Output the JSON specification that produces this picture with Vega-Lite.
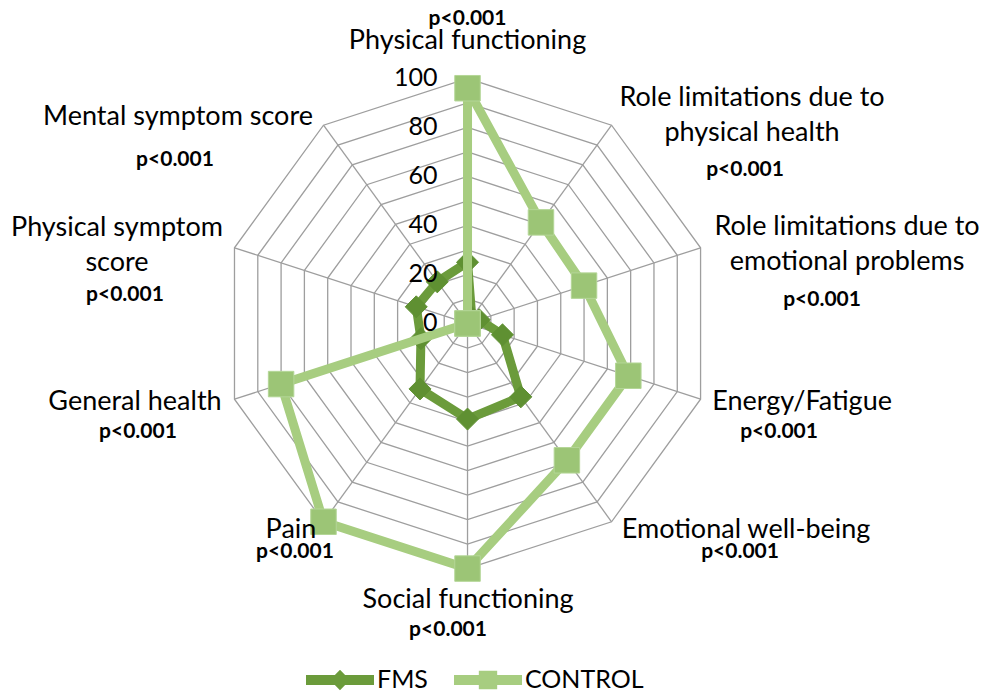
{
  "$schema": "https://vega.github.io/schema/vega-lite/v6.json",
  "width": 987,
  "height": 696,
  "autosize": {"type": "none"},
  "padding": 0,
  "background": "white",
  "config": {"view": {"stroke": null}, "font": "Lato"},
  "datasets": {
    "axes": [
      {"axis": "Physical functioning", "order": 0, "label": ["Physical functioning"], "p": "p<0.001", "rings": [10,20,30,40,50,60,70,80,90,100]},
      {"axis": "Role limitations due to physical health", "order": 1, "label": ["Role limitations due to", "physical health"], "p": "p<0.001", "rings": [10,20,30,40,50,60,70,80,90,100]},
      {"axis": "Role limitations due to emotional problems", "order": 2, "label": ["Role limitations due to", "emotional problems"], "p": "p<0.001", "rings": [10,20,30,40,50,60,70,80,90,100]},
      {"axis": "Energy/Fatigue", "order": 3, "label": ["Energy/Fatigue"], "p": "p<0.001", "rings": [10,20,30,40,50,60,70,80,90,100]},
      {"axis": "Emotional well-being", "order": 4, "label": ["Emotional well-being"], "p": "p<0.001", "rings": [10,20,30,40,50,60,70,80,90,100]},
      {"axis": "Social functioning", "order": 5, "label": ["Social functioning"], "p": "p<0.001", "rings": [10,20,30,40,50,60,70,80,90,100]},
      {"axis": "Pain", "order": 6, "label": ["Pain"], "p": "p<0.001", "rings": [10,20,30,40,50,60,70,80,90,100]},
      {"axis": "General health", "order": 7, "label": ["General health"], "p": "p<0.001", "rings": [10,20,30,40,50,60,70,80,90,100]},
      {"axis": "Physical symptom score", "order": 8, "label": ["Physical symptom", "score"], "p": "p<0.001", "rings": [10,20,30,40,50,60,70,80,90,100]},
      {"axis": "Mental symptom score", "order": 9, "label": ["Mental symptom score"], "p": "p<0.001", "rings": [10,20,30,40,50,60,70,80,90,100]}
    ],
    "scores": [
      {"axis": "Physical functioning", "order": 0, "group": "FMS", "value": 25},
      {"axis": "Role limitations due to physical health", "order": 1, "group": "FMS", "value": 3},
      {"axis": "Role limitations due to emotional problems", "order": 2, "group": "FMS", "value": 5},
      {"axis": "Energy/Fatigue", "order": 3, "group": "FMS", "value": 15},
      {"axis": "Emotional well-being", "order": 4, "group": "FMS", "value": 37},
      {"axis": "Social functioning", "order": 5, "group": "FMS", "value": 39},
      {"axis": "Pain", "order": 6, "group": "FMS", "value": 33},
      {"axis": "General health", "order": 7, "group": "FMS", "value": 20},
      {"axis": "Physical symptom score", "order": 8, "group": "FMS", "value": 22},
      {"axis": "Mental symptom score", "order": 9, "group": "FMS", "value": 21},
      {"axis": "Physical functioning", "order": 0, "group": "CONTROL", "value": 96},
      {"axis": "Role limitations due to physical health", "order": 1, "group": "CONTROL", "value": 51},
      {"axis": "Role limitations due to emotional problems", "order": 2, "group": "CONTROL", "value": 50},
      {"axis": "Energy/Fatigue", "order": 3, "group": "CONTROL", "value": 69},
      {"axis": "Emotional well-being", "order": 4, "group": "CONTROL", "value": 69},
      {"axis": "Social functioning", "order": 5, "group": "CONTROL", "value": 100},
      {"axis": "Pain", "order": 6, "group": "CONTROL", "value": 100},
      {"axis": "General health", "order": 7, "group": "CONTROL", "value": 80},
      {"axis": "Physical symptom score", "order": 8, "group": "CONTROL", "value": 0},
      {"axis": "Mental symptom score", "order": 9, "group": "CONTROL", "value": 0}
    ],
    "ticks": [
      {"level": 0}, {"level": 20}, {"level": 40}, {"level": 60}, {"level": 80}, {"level": 100}
    ]
  },
  "encoding": {
    "x": {"field": "x", "type": "quantitative", "scale": {"domain": [-190.8, 212.0], "nice": false, "zero": false}, "axis": null},
    "y": {"field": "y", "type": "quantitative", "scale": {"domain": [-152.0, 132.0], "nice": false, "zero": false}, "axis": null}
  },
  "layer": [
    {
      "data": {"name": "axes"},
      "transform": [
        {"flatten": ["rings"], "as": ["ring"]},
        {"calculate": "datum.order * PI / 5", "as": "a"},
        {"calculate": "datum.ring * sin(datum.a)", "as": "x"},
        {"calculate": "datum.ring * cos(datum.a)", "as": "y"}
      ],
      "mark": {"type": "line", "interpolate": "linear-closed", "stroke": "#9e9e9e", "strokeWidth": 1.3},
      "encoding": {
        "detail": {"field": "ring", "type": "nominal"},
        "order": {"field": "order", "type": "quantitative"}
      }
    },
    {
      "data": {"name": "axes"},
      "transform": [
        {"calculate": "datum.order * PI / 5", "as": "a"},
        {"calculate": "0", "as": "x"},
        {"calculate": "0", "as": "y"},
        {"calculate": "100 * sin(datum.a)", "as": "x2v"},
        {"calculate": "100 * cos(datum.a)", "as": "y2v"}
      ],
      "mark": {"type": "rule", "stroke": "#9e9e9e", "strokeWidth": 1.3},
      "encoding": {
        "x2": {"field": "x2v"},
        "y2": {"field": "y2v"}
      }
    },
    {
      "data": {"name": "scores"},
      "transform": [
        {"filter": "datum.group === 'FMS'"},
        {"calculate": "datum.order * PI / 5", "as": "a"},
        {"calculate": "datum.value * sin(datum.a)", "as": "x"},
        {"calculate": "datum.value * cos(datum.a)", "as": "y"}
      ],
      "mark": {"type": "line", "interpolate": "linear-closed", "strokeWidth": 9, "strokeJoin": "round"},
      "encoding": {
        "color": {
          "field": "group", "type": "nominal",
          "scale": {"domain": ["FMS", "CONTROL"], "range": ["#6b9b3b", "#a7cd80"]},
          "legend": {
            "orient": "none", "legendX": 306, "legendY": 646, "direction": "horizontal",
            "title": null, "padding": 0, "labelFont": "Lato", "labelFontSize": 25, "labelColor": "#000000",
            "labelOffset": 3, "columnPadding": 26, "symbolSize": 4624, "symbolType": "square",
            "encode": {
              "symbols": {
                "update": {
                  "shape": {"signal": "datum.value === 'FMS' ? 'M-1,-0.15L-0.15,-0.15L0,-0.3L0.15,-0.15L1,-0.15L1,0.15L0.15,0.15L0,0.3L-0.15,0.15L-1,0.15Z' : 'M-1,-0.15L-0.27,-0.15L-0.27,-0.27L0.27,-0.27L0.27,-0.15L1,-0.15L1,0.15L0.27,0.15L0.27,0.27L-0.27,0.27L-0.27,0.15L-1,0.15Z'"},
                  "fill": {"signal": "datum.value === 'FMS' ? '#6b9b3b' : '#a7cd80'"},
                  "stroke": {"value": "transparent"},
                  "strokeWidth": {"value": 0},
                  "size": {"value": 4624},
                  "opacity": {"value": 1}
                }
              }
            }
          }
        },
        "order": {"field": "order", "type": "quantitative"}
      }
    },
    {
      "data": {"name": "scores"},
      "transform": [
        {"filter": "datum.group === 'FMS'"},
        {"calculate": "datum.order * PI / 5", "as": "a"},
        {"calculate": "datum.value * sin(datum.a)", "as": "x"},
        {"calculate": "datum.value * cos(datum.a)", "as": "y"}
      ],
      "mark": {"type": "point", "shape": "diamond", "filled": true, "size": 484, "fill": "#5f9032", "opacity": 1, "stroke": "#5f9032", "strokeWidth": 1}
    },
    {
      "data": {"name": "scores"},
      "transform": [
        {"filter": "datum.group === 'CONTROL'"},
        {"calculate": "datum.order * PI / 5", "as": "a"},
        {"calculate": "datum.value * sin(datum.a)", "as": "x"},
        {"calculate": "datum.value * cos(datum.a)", "as": "y"}
      ],
      "mark": {"type": "line", "interpolate": "linear-closed", "strokeWidth": 9, "strokeJoin": "round"},
      "encoding": {
        "color": {"field": "group", "type": "nominal"},
        "order": {"field": "order", "type": "quantitative"}
      }
    },
    {
      "data": {"name": "scores"},
      "transform": [
        {"filter": "datum.group === 'CONTROL'"},
        {"calculate": "datum.order * PI / 5", "as": "a"},
        {"calculate": "datum.value * sin(datum.a)", "as": "x"},
        {"calculate": "datum.value * cos(datum.a)", "as": "y"}
      ],
      "mark": {"type": "point", "shape": "square", "filled": true, "size": 650, "fill": "#9cc576", "opacity": 1, "stroke": "#b4d697", "strokeWidth": 1}
    },
    {
      "data": {"name": "ticks"},
      "transform": [
        {"calculate": "0", "as": "x"},
        {"calculate": "datum.level", "as": "y"}
      ],
      "mark": {"type": "text", "align": "right", "baseline": "middle", "dx": -30, "font": "Lato", "fontSize": 25, "color": "#000000"},
      "encoding": {
        "text": {"field": "level", "type": "quantitative"}
      }
    },
    {
      "data": {"name": "axes"},
      "transform": [
        {"calculate": "datum.order * PI / 5", "as": "a"},
        {"calculate": "100 * sin(datum.a)", "as": "x"},
        {"calculate": "100 * cos(datum.a)", "as": "y"}
      ],
      "mark": {
        "type": "text", "align": "center", "baseline": "middle", "font": "Lato", "fontSize": 27, "lineHeight": 35, "color": "#000000",
        "dx": {"expr": "[0,140.5,146.5,101.5,134.5,0.5,-32.5,-99.5,-117.5,-145.5][datum.order]"},
        "dy": {"expr": "[-37.5,-27,-21,3,8,31.5,8,3,-20,-8][datum.order]"}
      },
      "encoding": {
        "text": {"field": "label", "type": "nominal"}
      }
    },
    {
      "data": {"name": "axes"},
      "transform": [
        {"calculate": "datum.order * PI / 5", "as": "a"},
        {"calculate": "100 * sin(datum.a)", "as": "x"},
        {"calculate": "100 * cos(datum.a)", "as": "y"}
      ],
      "mark": {
        "type": "text", "align": "center", "baseline": "middle", "font": "Lato", "fontSize": 21, "fontWeight": "bold", "color": "#000000",
        "dx": {"expr": "[0,133.5,121.5,78.5,128.5,-19.5,-28.5,-96.5,-109.5,-148.5][datum.order]"},
        "dy": {"expr": "[-59,45,52,33,30,61.5,30,33,47,35][datum.order]"}
      },
      "encoding": {
        "text": {"field": "p", "type": "nominal"}
      }
    }
  ]
}
